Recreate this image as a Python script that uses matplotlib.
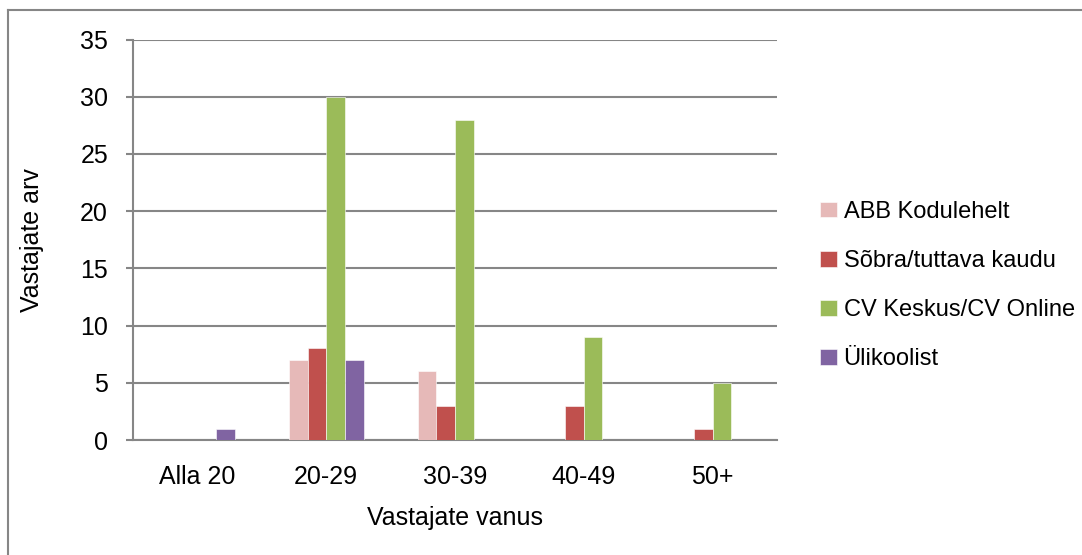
import matplotlib.pyplot as plt
from matplotlib.lines import Line2D
import numpy as np

# andmed
categories = ['Alla 20', '20-29', '30-39', '40-49', '50+']
series_names = ['ABB Kodulehelt', 'Sõbra/tuttava kaudu', 'CV Keskus/CV Online', 'Ülikoolist']
abb = [0, 7, 6, 0, 0]
sobra = [0, 8, 3, 3, 1]
cv = [0, 30, 28, 9, 5]
ylikool = [1, 7, 0, 0, 0]
colors = ['#E6B9B8', '#C0504D', '#9BBB59', '#8064A2']

plt.rcParams['font.family'] = ['Liberation Sans', 'DejaVu Sans']

fig = plt.figure(figsize=(10.82, 5.55), dpi=100)
ax = fig.add_axes([133 / 1082, 1 - 440 / 555, 644 / 1082, 400.5 / 555])

x = np.arange(len(categories))
w = 0.145
for i, (vals, name) in enumerate(zip([abb, sobra, cv, ylikool], series_names)):
    ax.bar(x + (i - 1.5) * w, vals, width=w, color=colors[i], label=name,
           edgecolor='white', linewidth=0.4, zorder=3)

ax.set_xlim(-0.5, len(categories) - 0.5)
ax.set_ylim(0, 35)
ax.set_yticks(range(0, 36, 5))
ax.set_xticks(x)
ax.set_xticklabels(categories)

grid_col = '#868686'
ax.grid(axis='y', color=grid_col, linewidth=1.5, zorder=0)
for s in ['top', 'right']:
    ax.spines[s].set_visible(False)
for s in ['left', 'bottom']:
    ax.spines[s].set_color(grid_col)
    ax.spines[s].set_linewidth(1.5)
ax.tick_params(axis='y', length=5, width=1.5, color=grid_col, pad=13, labelsize=18)
ax.tick_params(axis='x', length=0, pad=18, labelsize=18)

ax.set_xlabel('Vastajate vanus', fontsize=18, labelpad=12)
ax.set_ylabel('Vastajate arv', fontsize=18, labelpad=26)

fig.legend(loc='center left', bbox_to_anchor=(820 / 1082, 1 - 285.5 / 555),
           frameon=False, fontsize=17, borderpad=0, borderaxespad=0,
           handlelength=0.7, handleheight=0.65, handletextpad=0.3, labelspacing=1.15)

# raam ümber joonise
fig.add_artist(Line2D([8 / 1082, 8 / 1082], [0, 1 - 10 / 555], color=grid_col, linewidth=1.5))
fig.add_artist(Line2D([8 / 1082, 1], [1 - 10 / 555, 1 - 10 / 555], color=grid_col, linewidth=1.5))

fig.savefig('out.png', dpi=100)
